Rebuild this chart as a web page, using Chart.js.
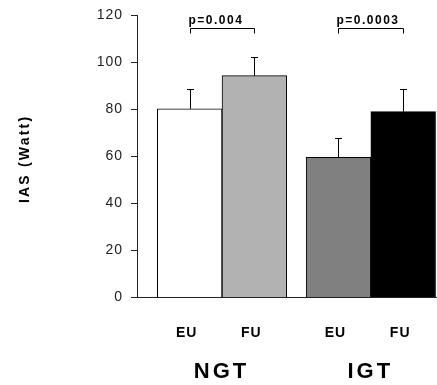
<!DOCTYPE html>
<html><head><meta charset="utf-8">
<script src="https://cdn.jsdelivr.net/npm/chart.js@4/dist/chart.umd.min.js"></script>
<style>html,body{margin:0;padding:0;background:#fff;overflow:hidden}#wrap{width:437px;height:385px;position:relative}</style>
</head><body><div id="wrap"><canvas id="c"></canvas></div>
<script>
// ---- data ----
const groups = ['NGT', 'IGT'];
const conditions = ['EU', 'FU'];
const meanIAS = [80.3, 94.4, 59.7, 79.1];
const errIAS = [8.3, 7.8, 8.0, 9.8];
const pValues = ['p=0.004', 'p=0.0003'];
const yTicks = [0, 20, 40, 60, 80, 100, 120];
const yTitle = 'IAS (Watt)';

// ---- layout / style ----
const barColors = ['#ffffff', '#b2b2b2', '#808080', '#000000'];
const groupGap = 0.3;
const bracketLevel = 114.5;
const slots = [];
groups.forEach((g, gi) => conditions.forEach((c, ci) => slots.push(1 + gi * (conditions.length + groupGap) + ci)));
const tickLabels = slots.map((s, i) => conditions[i % conditions.length]);
const points = meanIAS.map((v, i) => ({x: slots[i], y: v}));
const xMin = slots[0] - 0.5 - 0.314;
const xMax = slots[slots.length - 1] + 0.5 + 0.007;

const extras = {
  id: 'extras',
  beforeDraw(chart) { chart.ctx.letterSpacing = '1px'; },
  afterDatasetsDraw(chart) {
    const ctx = chart.ctx, xs = chart.scales.x, ys = chart.scales.y;
    ctx.save();
    ctx.strokeStyle = '#000';
    ctx.lineWidth = 1;
    // error bars (upper only)
    meanIAS.forEach((m, i) => {
      const px = Math.round(xs.getPixelForValue(slots[i])) + 0.5;
      const y0 = ys.getPixelForValue(m);
      const y1 = Math.round(ys.getPixelForValue(m + errIAS[i])) + 0.5;
      ctx.beginPath();
      ctx.moveTo(px, y0); ctx.lineTo(px, y1);
      ctx.moveTo(px - 3.5, y1); ctx.lineTo(px + 3.5, y1);
      ctx.stroke();
    });
    // brackets + p values
    const n = conditions.length;
    groups.forEach((g, gi) => {
      const xa = Math.round(xs.getPixelForValue(slots[gi * n])) + 0.5;
      const xb = Math.round(xs.getPixelForValue(slots[gi * n + n - 1])) + 0.5;
      const yt = Math.round(ys.getPixelForValue(bracketLevel)) + 0.5;
      ctx.beginPath();
      ctx.moveTo(xa, yt + 5); ctx.lineTo(xa, yt); ctx.lineTo(xb, yt); ctx.lineTo(xb, yt + 5);
      ctx.stroke();
      ctx.fillStyle = '#000';
      ctx.letterSpacing = '1.5px';
      ctx.font = 'bold 12px "Liberation Sans", Arial, sans-serif';
      ctx.textAlign = 'left';
      ctx.textBaseline = 'alphabetic';
      ctx.fillText(pValues[gi], xa - 2, yt - 5);
      // group label
      ctx.letterSpacing = '3px';
      ctx.font = 'bold 22px "Liberation Sans", Arial, sans-serif';
      ctx.textAlign = 'center';
      ctx.textBaseline = 'middle';
      const xc = (xs.getPixelForValue(slots[gi * n]) + xs.getPixelForValue(slots[gi * n + n - 1])) / 2;
      ctx.fillText(g, xc + 1.5 - 2, chart.chartArea.bottom + 74);
    });
    // y title
    ctx.save();
    ctx.translate(25, 160);
    ctx.rotate(-Math.PI / 2);
    ctx.letterSpacing = '2.2px';
    ctx.font = 'bold 14px "Liberation Sans", Arial, sans-serif';
    ctx.textAlign = 'center';
    ctx.textBaseline = 'middle';
    ctx.fillStyle = '#000';
    ctx.fillText(yTitle, 1.1, 0);
    ctx.restore();
    ctx.restore();
  }
};

new Chart(document.getElementById('c'), {
  type: 'bar',
  data: { datasets: [{ data: points, backgroundColor: barColors, borderColor: '#000', borderWidth: 1,
    barPercentage: 1, categoryPercentage: 1 }] },
  options: {
    responsive: true, maintainAspectRatio: false, animation: false, devicePixelRatio: 1,
    layout: { padding: { top: 15.5, right: 1, left: 0, bottom: 0 } },
    plugins: { legend: { display: false }, tooltip: { enabled: false } },
    scales: {
      x: { type: 'linear', min: xMin, max: xMax, offset: false,
        afterBuildTicks: s => { s.ticks = slots.map(v => ({ value: v })); },
        afterFit: s => { s.height = 87.5; s.paddingLeft = 0; s.paddingRight = 0; },
        grid: { display: false, drawTicks: false },
        border: { display: true, color: '#222', width: 1, z: 1 },
        ticks: { callback: (v, i) => tickLabels[i], font: { family: '"Liberation Sans", Arial', weight: 'bold', size: 14 },
          color: '#000', padding: 27, maxRotation: 0, autoSkip: false, labelOffset: -3 } },
      y: { min: 0, max: 120,
        afterBuildTicks: s => { s.ticks = yTicks.map(v => ({ value: v })); },
        afterFit: s => { s.width = 137; s.paddingTop = 0; s.paddingBottom = 0; },
        grid: { drawOnChartArea: false, drawTicks: true, tickLength: 6, color: '#222' },
        border: { color: '#222', width: 1, z: 1 },
        ticks: { font: { family: '"Liberation Sans", Arial', size: 14 }, color: '#222', padding: 8 } }
    }
  },
  plugins: [extras]
});
</script></body></html>
